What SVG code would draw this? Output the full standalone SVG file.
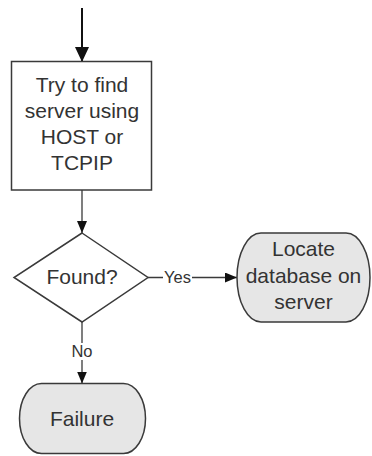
<svg xmlns="http://www.w3.org/2000/svg" width="372" height="456" viewBox="0 0 372 456">
  <style>
    .shape { stroke: #3a3a3a; stroke-width: 1.5; }
    .process { fill: #ffffff; }
    .terminal { fill: #e6e6e6; }
    .label { font-family: "Liberation Sans", Arial, sans-serif; font-size: 21px; fill: #333333; text-anchor: middle; }
    .small { font-family: "Liberation Sans", Arial, sans-serif; font-size: 16.5px; fill: #333333; text-anchor: middle; }
    .edge { fill: none; stroke: #3a3a3a; stroke-width: 1.3; }
    .entry { fill: none; stroke: #111111; stroke-width: 2; }
  </style>
  <defs>
    <marker id="head" viewBox="0 0 12 10" refX="12" refY="5" markerWidth="12" markerHeight="10" markerUnits="userSpaceOnUse" orient="auto">
      <path d="M0,0 L12,5 L0,10 Z" fill="#111111"/>
    </marker>
    <marker id="headBig" viewBox="0 0 15 14" refX="15" refY="7" markerWidth="15" markerHeight="14" markerUnits="userSpaceOnUse" orient="auto">
      <path d="M0,0 L15,7 L0,14 Z" fill="#111111"/>
    </marker>
  </defs>

  <g id="connectors">
    <line class="entry" x1="82" y1="8" x2="82" y2="62" marker-end="url(#headBig)"/>
    <line class="edge" x1="82" y1="190" x2="82" y2="233" marker-end="url(#head)"/>
    <line class="edge" x1="148" y1="277.5" x2="237" y2="277.5" marker-end="url(#head)"/>
    <rect x="163" y="268" width="29" height="18" fill="#ffffff"/>
    <text class="small" x="177.5" y="283">Yes</text>
    <line class="edge" x1="82" y1="322" x2="82" y2="383.5" marker-end="url(#head)"/>
    <rect x="71" y="343" width="22" height="17" fill="#ffffff"/>
    <text class="small" x="82" y="357">No</text>
  </g>

  <g id="find-server">
    <rect class="shape process" x="11.5" y="61.5" width="140" height="128.5"/>
    <text class="label" x="82" y="92">Try to find</text>
    <text class="label" x="82" y="118">server using</text>
    <text class="label" x="82" y="144">HOST or</text>
    <text class="label" x="82" y="170">TCPIP</text>
  </g>

  <g id="found">
    <polygon class="shape process" points="82,233 148,277.5 82,322 14,277.5"/>
    <text class="label" x="82" y="284">Found?</text>
  </g>

  <g id="locate-database">
    <rect class="shape terminal" x="237" y="233" width="133" height="89" rx="24" ry="44.5"/>
    <text class="label" x="303.5" y="256">Locate</text>
    <text class="label" x="303.5" y="283">database on</text>
    <text class="label" x="303.5" y="309">server</text>
  </g>

  <g id="failure">
    <rect class="shape terminal" x="19.5" y="383.5" width="126" height="70" rx="22" ry="35"/>
    <text class="label" x="82" y="426">Failure</text>
  </g>
</svg>
